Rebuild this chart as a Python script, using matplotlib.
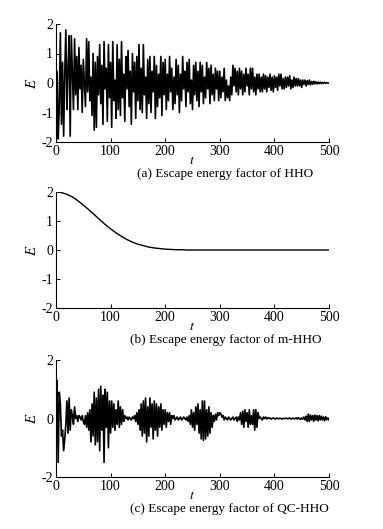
import matplotlib.pyplot as plt
import numpy as np

plt.rcParams['font.family'] = ['Liberation Serif', 'DejaVu Serif']
plt.rcParams['mathtext.fontset'] = 'stix'
plt.rcParams['axes.unicode_minus'] = False

# (a) HHO escape energy, sampled every 2 iterations
t_a = np.arange(0, 501, 2)
e_hho = [
    -1.7, 0.4, -1.9, -0.8, 1.7, -1.4, 0.7, -1.8, 0.3, 1.8,
    -0.9, 0.5, 1.6, -1.8, 1.6, 0.3, -0.9, 1.5, -0.4, 0.9,
    -0.9, 1.2, -0.2, 0.6, -1.0, 0.8, 0.0, -0.8, 1.5, -0.3,
    1.4, -0.6, 0.2, -1.1, 1.0, -1.6, 0.7, -1.5, 0.9, -0.4,
    1.3, -0.7, 0.6, -1.4, 1.4, -0.2, 0.5, -1.3, 1.3, -0.5,
    0.7, -1.5, 1.4, -0.6, 0.1, -1.2, 1.3, -0.9, 0.8, -1.1,
    1.4, -0.5, 0.3, -1.3, 0.9, -0.2, 1.1, -0.8, 0.4, -1.4,
    1.0, -0.3, 0.7, -1.2, 0.9, -0.6, 1.3, -0.9, 0.5, -1.0,
    1.3, -0.4, 0.2, -1.2, 0.8, -0.7, 0.9, -1.0, 0.4, -0.3,
    0.9, -1.2, 0.6, -0.8, 0.3, -0.5, 0.9, -1.1, 0.7, -0.4,
    0.8, -0.9, 0.3, -0.6, 0.9, -0.3, 0.5, -0.9, 0.2, -0.7,
    0.8, -0.4, 0.6, -1.0, 0.3, -0.6, 0.9, -0.2, 0.4, -0.8,
    0.7, -0.3, 0.8, -0.7, 0.1, -0.9, 0.6, -0.4, 0.7, -0.6,
    0.4, -0.8, 0.7, -0.3, 0.6, -0.7, 0.2, -0.5, 0.7, -0.2,
    0.5, -0.7, 0.6, -0.4, 0.3, -0.6, 0.5, -0.2, 0.4, -0.6,
    0.4, -0.5, 0.2, -0.3, 0.5, -0.6, 0.1, -0.5, -0.1, -0.6,
    0.2, -0.4, 0.6, -0.1, 0.5, -0.3, 0.4, -0.4, 0.5, -0.2,
    0.4, -0.4, 0.3, -0.3, 0.5, -0.1, 0.3, -0.4, 0.5, -0.2,
    0.5, -0.3, 0.2, -0.4, 0.3, -0.2, 0.3, -0.3, 0.2, -0.3,
    0.3, -0.2, 0.25, -0.3, 0.2, -0.15, 0.3, -0.25, 0.2, -0.3,
    0.25, -0.15, 0.2, -0.25, 0.3, -0.1, 0.3, -0.2, 0.15, -0.2,
    0.2, -0.15, 0.2, -0.1, 0.25, -0.2, 0.1, -0.15, 0.2, -0.1,
    0.15, -0.1, 0.15, -0.1, 0.1, -0.15, 0.1, -0.05, 0.1, -0.1,
    0.08, -0.05, 0.1, -0.06, 0.05, -0.04, 0.06, -0.03, 0.04, -0.03,
    0.03, -0.02, 0.03, -0.02, 0.02, -0.01, 0.02, -0.01, 0.01, 0.0,
    0.0,
]

# (b) m-HHO escape energy, every 10 iterations
t_b = np.arange(0, 501, 10)
e_mhho = [
    2.00, 1.98, 1.92, 1.83, 1.70, 1.55, 1.39, 1.22, 1.05, 0.88,
    0.73, 0.59, 0.47, 0.36, 0.27, 0.20, 0.15, 0.10, 0.07, 0.05,
    0.03, 0.02, 0.01, 0.01, 0.00, 0.00, 0.00, 0.00, 0.00, 0.00,
    0.00, 0.00, 0.00, 0.00, 0.00, 0.00, 0.00, 0.00, 0.00, 0.00,
    0.00, 0.00, 0.00, 0.00, 0.00, 0.00, 0.00, 0.00, 0.00, 0.00,
    0.00,
]

# (c) QC-HHO escape energy, every 2 iterations
t_c = np.arange(0, 501, 2)
e_qchho = [
    0.0, 1.3, -1.5, 0.9, 0.5, -0.6, -0.4, -1.1, -0.7, -0.2,
    0.6, -0.5, 0.7, -0.4, 0.3, 0.1, -0.2, 0.4, 0.0, 0.1,
    -0.1, 0.1, 0.05, -0.05, 0.1, -0.1, -0.2, 0.1, -0.3, 0.2,
    -0.4, 0.3, -0.8, 0.5, -0.6, 0.9, -0.9, 0.7, -0.8, 1.0,
    -1.1, 1.1, -0.4, 0.8, -1.5, 1.0, -0.3, 0.9, -1.0, 0.6,
    -0.5, 0.6, -0.3, 0.5, -0.4, 0.3, -0.2, 0.6, -0.3, 0.4,
    -0.2, 0.3, -0.1, 0.1, 0.0, 0.05, -0.05, 0.05, 0.0, -0.05,
    0.05, 0.0, 0.1, -0.1, 0.2, -0.2, 0.3, -0.4, 0.5, -0.6,
    0.6, -0.5, 0.7, -0.8, 0.4, -0.6, 0.7, -0.3, 0.5, -0.7,
    0.6, -0.4, 0.5, -0.6, 0.4, -0.3, 0.5, -0.4, 0.3, -0.2,
    0.3, -0.3, 0.2, -0.1, 0.2, -0.2, 0.1, 0.0, 0.1, -0.05,
    0.0, 0.05, -0.05, 0.0, 0.05, -0.05, 0.0, 0.05, 0.0, -0.05,
    0.05, -0.1, 0.1, -0.2, 0.3, -0.3, 0.2, -0.4, 0.4, -0.2,
    0.5, -0.5, 0.3, -0.7, 0.6, -0.75, 0.6, -0.7, 0.3, -0.6,
    0.4, -0.5, 0.2, -0.3, 0.1, -0.1, 0.15, -0.05, 0.2, 0.1,
    0.2, 0.15, 0.05, 0.1, -0.05, 0.05, 0.0, -0.05, 0.05, 0.0,
    -0.05, 0.0, 0.05, -0.05, 0.0, 0.05, -0.1, 0.05, -0.05, 0.2,
    -0.2, 0.25, -0.3, 0.3, -0.1, 0.2, -0.3, 0.3, -0.2, 0.1,
    -0.2, 0.3, -0.4, 0.3, -0.3, 0.2, 0.0, 0.05, 0.0, -0.05,
    0.05, 0.0, 0.05, -0.02, 0.03, 0.0, 0.02, -0.02, 0.0, 0.02,
    0.0, -0.02, 0.02, 0.0, -0.01, 0.01, 0.0, -0.02, 0.01, 0.0,
    0.0, 0.01, -0.01, 0.0, 0.02, -0.02, 0.0, 0.01, -0.01, 0.0,
    0.02, -0.02, 0.03, 0.0, -0.03, 0.02, -0.02, 0.05, -0.05, 0.08,
    -0.1, 0.15, -0.1, 0.12, -0.05, 0.1, -0.1, 0.12, -0.05, 0.1,
    -0.08, 0.1, -0.05, 0.08, -0.05, 0.05, -0.08, 0.06, -0.04, 0.02,
    -0.05,
]

captions = ['(a) Escape energy factor of HHO',
            '(b) Escape energy factor of m-HHO',
            '(c) Escape energy factor of QC-HHO']
yticks_list = [[-2, -1, 0, 1, 2], [-2, -1, 0, 1, 2], [-2, 0, 2]]

W, H = 383, 529
fig = plt.figure(figsize=(W / 100, H / 100), dpi=100)

# axes boxes in pixels: (left, top, right, bottom)
boxes = [(56, 24, 329, 142), (56, 192, 329, 308), (56, 360, 329, 477)]
cap_x = [225, 226, 229]
series = [(t_a, e_hho, 1.2), (t_b, e_mhho, 1.0), (t_c, e_qchho, 1.2)]

for i, (l, t, r, b) in enumerate(boxes):
    ax = fig.add_axes([l / W, 1 - b / H, (r - l) / W, (b - t) / H])
    x, y, lw = series[i]
    ax.plot(x, y, color='black', lw=lw)
    ax.set_xlim(0, 500)
    ax.set_ylim(-2, 2)
    ax.set_xticks([0, 100, 200, 300, 400, 500])
    ax.set_yticks(yticks_list[i])
    ax.spines['top'].set_visible(False)
    ax.spines['right'].set_visible(False)
    for s in ['left', 'bottom']:
        ax.spines[s].set_linewidth(0.8)
    ax.tick_params(direction='in', length=3, width=0.7, labelsize=10, pad=2)
    ax.set_ylabel('$E$', fontsize=10.5, labelpad=2)
    ax.set_xlabel('$t$', fontsize=10, labelpad=-3)
    fig.text(cap_x[i] / W, 1 - (b + 32) / H, captions[i], fontsize=9.5,
             ha='center', va='center')

fig.savefig('out.png', dpi=100)
